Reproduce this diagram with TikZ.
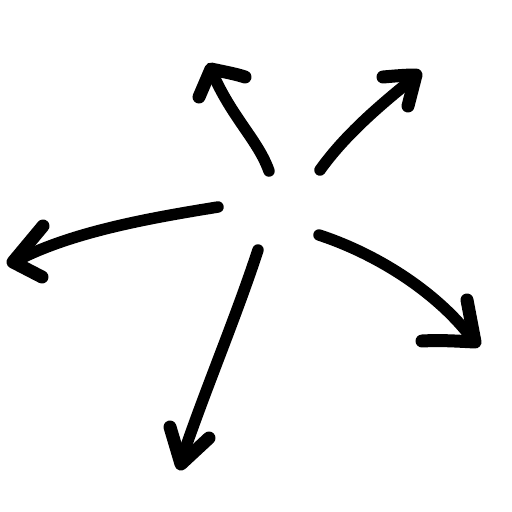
\documentclass[tikz,border=0pt]{standalone}
\begin{document}
\begin{tikzpicture}[x=1pt,y=-1pt,
  stroke/.style={line width=11.5pt,line cap=round,line join=round,black},
  head/.style={line width=13pt,line cap=round,line join=round,black}]
\useasboundingbox (0,0) rectangle (512,512);
% up-left
\draw[stroke] (269,171) .. controls (258,140) and (232,118) .. (212,72);
\draw[head] (199,97) -- (211,69) .. controls (225,72) and (236,74) .. (245,77);
% up-right
\draw[stroke] (320,170) .. controls (345,135) and (380,105) .. (415,77);
\draw[head] (383,77) .. controls (395,76) and (405,75) .. (416,75) -- (408,106);
% left
\draw[stroke] (218,207) .. controls (150,218) and (70,232) .. (14,262);
\draw[head] (43,226) -- (13,262) -- (42,277);
% down
\draw[stroke] (258,250) .. controls (235,320) and (205,390) .. (181,461);
\draw[head] (170,427) -- (181,464) -- (209,438);
% right-down
\draw[stroke] (319,235) .. controls (380,255) and (440,295) .. (473,340);
\draw[head] (467,300) -- (475,342) .. controls (455,341) and (440,340) .. (422,341);
\end{tikzpicture}
\end{document}
